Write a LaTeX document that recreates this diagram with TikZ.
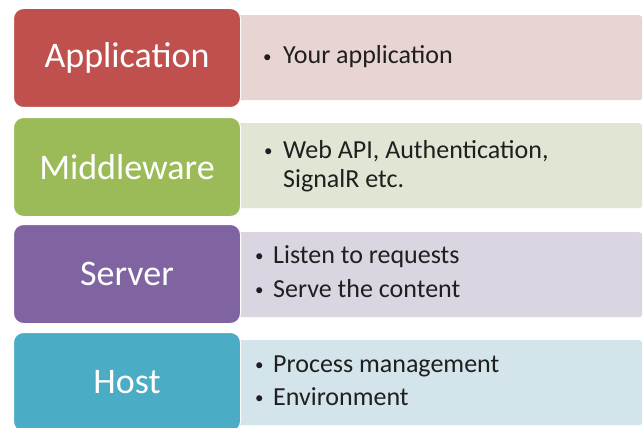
\documentclass[tikz,border=0pt]{standalone}
\usepackage{fontspec}
\setmainfont{Carlito}
\definecolor{appred}{HTML}{C0504D}
\definecolor{midgreen}{HTML}{9BBB59}
\definecolor{srvpurple}{HTML}{8064A2}
\definecolor{hstblue}{HTML}{4BACC6}
\definecolor{apppale}{HTML}{E8D4D3}
\definecolor{midpale}{HTML}{DFE6D4}
\definecolor{srvpale}{HTML}{DBD5E2}
\definecolor{hstpale}{HTML}{D3E4EA}
\newcommand\itm[2][20pt]{\makebox[#1][l]{\raisebox{1.6pt}{\fontsize{17}{20}\selectfont\textbullet}}#2}

\begin{document}
\begin{tikzpicture}[x=1pt,y=-1pt,
		layer/.style={rounded corners=10pt, draw=white, line width=1pt, minimum width=227pt, minimum height=99pt, inner sep=0pt, anchor=north west, text=white, font=\fontsize{36}{40}\selectfont},
		info/.style={rounded corners=3pt, minimum width=408pt, minimum height=85pt, inner sep=0pt, anchor=north west},
		item/.style={anchor=base west, inner sep=0pt, text=black!88, font=\fontsize{26}{30}\selectfont}]
			\useasboundingbox (0,0) rectangle (643,428);
			% pale panels first, the coloured layers sit on their left ends
			\node[info, fill=apppale] (appinfo) at (234,15) {};
			\node[info, fill=midpale] (midinfo) at (234,123) {};
			\node[info, fill=srvpale] (srvinfo) at (234,232) {};
			\node[info, fill=hstpale] (hstinfo) at (234,340) {};
			\node[layer, fill=appred] (app) at (13,8) {Application};
			\node[layer, fill=midgreen] (mid) at (13,117) {Middleware};
			\node[layer, fill=srvpurple] (srv) at (13,224) {Server};
			\node[layer, fill=hstblue] (hst) at (13,332) {Host};
			\node[item] (app1) at ([shift={(29,49)}]appinfo.north west) {\itm{Your application}};
			\node[item] (mid1) at ([shift={(30,35)}]midinfo.north west) {\itm[19pt]{Web API, Authentication,}};
			\node[item] (mid2) at ([shift={(49,64)}]midinfo.north west) {SignalR etc.};
			\node[item] (srv1) at ([shift={(21,31)}]srvinfo.north west) {\itm[18pt]{Listen to requests}};
			\node[item] (srv2) at ([shift={(21,65)}]srvinfo.north west) {\itm[18pt]{Serve the content}};
			\node[item] (hst1) at ([shift={(21,32)}]hstinfo.north west) {\itm[18pt]{Process management}};
			\node[item] (hst2) at ([shift={(21,65)}]hstinfo.north west) {\itm[18pt]{Environment}};
		\end{tikzpicture}
\end{document}
